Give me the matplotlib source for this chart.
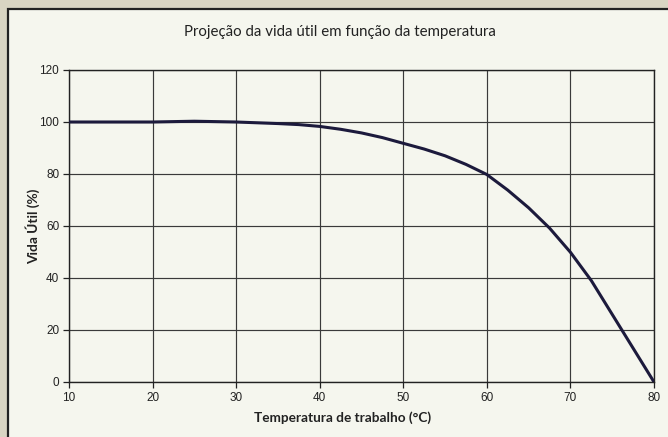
import matplotlib
matplotlib.use("Agg")
from matplotlib import pyplot as plt
from matplotlib.patches import Rectangle

# temperature (C) and projected useful life (%)
temp = [10, 15, 20, 25, 30, 35, 37.5, 40, 42.5, 45, 47.5, 50, 52.5, 55, 57.5,
        60, 62.5, 65, 67.5, 70, 72.5, 75, 77.5, 80]
vida = [100, 100, 100, 100.3, 100, 99.4, 99.0, 98.3, 97.2, 95.8, 94.0, 91.8, 89.6, 87.0, 83.7,
        79.8, 73.8, 67.0, 59.2, 49.9, 39.0, 26.0, 13.0, 0]

x_ticks = [10, 20, 30, 40, 50, 60, 70, 80]
y_ticks = [0, 20, 40, 60, 80, 100, 120]

W, H = 668, 437
fig = plt.figure(figsize=(W/100, H/100), dpi=100)
fig.patch.set_facecolor('#d9d5c3')

# scanned page frame, behind the axes
frame = Rectangle((8/W, -0.1), 1.2, 1 - 9/H + 0.1, transform=fig.transFigure,
                  facecolor='#f5f6ee', edgecolor='#222222', linewidth=1.6, zorder=-5)
fig.patches.append(frame)

ax = fig.add_axes([69/W, 1 - 382/H, (654-69)/W, (382-70)/H])
ax.set_zorder(2)
ax.set_facecolor('#f5f6ee')
ax.plot(temp, vida, color='#1c1a3c', linewidth=2.2, zorder=3,
        solid_joinstyle='round', solid_capstyle='round')

ax.set_xlim(10, 80)
ax.set_ylim(0, 120)
ax.set_xticks(x_ticks)
ax.set_yticks(y_ticks)
ax.grid(True, color='#3a3a3a', linewidth=0.85)
for s in ax.spines.values():
    s.set_color('#222222')
    s.set_linewidth(1.0)
ax.tick_params(direction='out', length=4, width=0.9, color='#222222',
               labelsize=8.5, labelcolor='#222222', pad=3)
for lab in ax.get_xticklabels() + ax.get_yticklabels():
    lab.set_family('Liberation Sans')

fig.text(340/W, 1 - 32/H, 'Projeção da vida útil em função da temperatura',
         ha='center', va='center', fontsize=10.8, family='Lato', color='#222222')
fig.text(343/W, 1 - 418/H, 'Temperatura de trabalho (°C)', ha='center', va='center',
         fontsize=9.8, family='Lato', fontweight='bold', color='#222222')
fig.text(33/W, 1 - 226/H, 'Vida Útil (%)', ha='center', va='center', rotation=90,
         fontsize=9.8, family='Lato', fontweight='bold', color='#222222')

fig.savefig('out.png', dpi=100, facecolor=fig.get_facecolor())
